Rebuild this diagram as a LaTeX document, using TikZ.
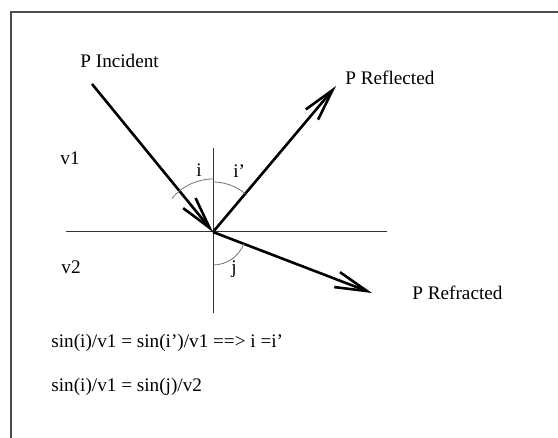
\documentclass[tikz,border=0pt]{standalone}
\usepackage{fontspec}
\setmainfont{Liberation Serif}
\usetikzlibrary{arrows.meta,positioning}

\begin{document}
\begin{tikzpicture}[
      x=0.5pt, y=-0.5pt,
      frame/.style={draw=black!70, line width=0.9pt},
      axis/.style={draw=black!80, line width=0.5pt},
      ray/.style={draw, line width=1.3pt, -{Straight Barb[length=16pt, width=8pt, line width=1.3pt]}},
      arcmark/.style={draw=black!55, line width=0.4pt},
      lbl/.style={anchor=base west, inner sep=0pt, font=\fontsize{9.6}{11}\selectfont}
    ]
    \useasboundingbox (0,0) rectangle (558,438);
    \draw[frame] (558,12) -- (11,12) -- (11,438);
    % interface and normal
    \coordinate (O) at (213,232);
    \coordinate (nTop) at (213,148); \coordinate (nBot) at (213,313);
    \coordinate (sL) at (66,232); \coordinate (sR) at (387,232);
    \draw[axis] (nTop) -- (nBot);
    \draw[axis] (sL) -- (sR);
    % rays
    \coordinate (inc) at (92,84);
    \coordinate (refl) at (336,86);
    \coordinate (refr) at (372,293);
    \draw[ray] (inc) -- (O);
    \draw[ray] (O) -- (refl);
    \draw[ray] (O) -- (refr);
    % angles
    \draw[arcmark] (O) ++(219.3:53) arc[start angle=219.3, end angle=270, radius=53];
    \draw[arcmark] (O) ++(270:50) arc[start angle=270, end angle=310.1, radius=50];
    \draw[arcmark] (O) ++(21:33) arc[start angle=21, end angle=90, radius=33];
    % labels
    \node[lbl] (tInc) at (80,68) {P Incident};
    \node[lbl] (tRefl) at (345,85) {P Reflected};
    \node[lbl] (tRefr) at (412,300) {P Refracted};
    \node[lbl] (tv1) at (60,165) {v1};
    \node[lbl] (tv2) at (61,274) {v2};
    \node[lbl] (ti) at (196,177) {i};
    \node[lbl] (tip) at (233,178) {i'};
    \node[lbl] (tj) at (231,274) {j};
    \node[lbl] (eq1) at (51,348) {sin(i)/v1 = sin(i')/v1 ==> i =i'};
    \node[lbl] (eq2) at (51,392) {sin(i)/v1 = sin(j)/v2};
\end{tikzpicture}
\end{document}
